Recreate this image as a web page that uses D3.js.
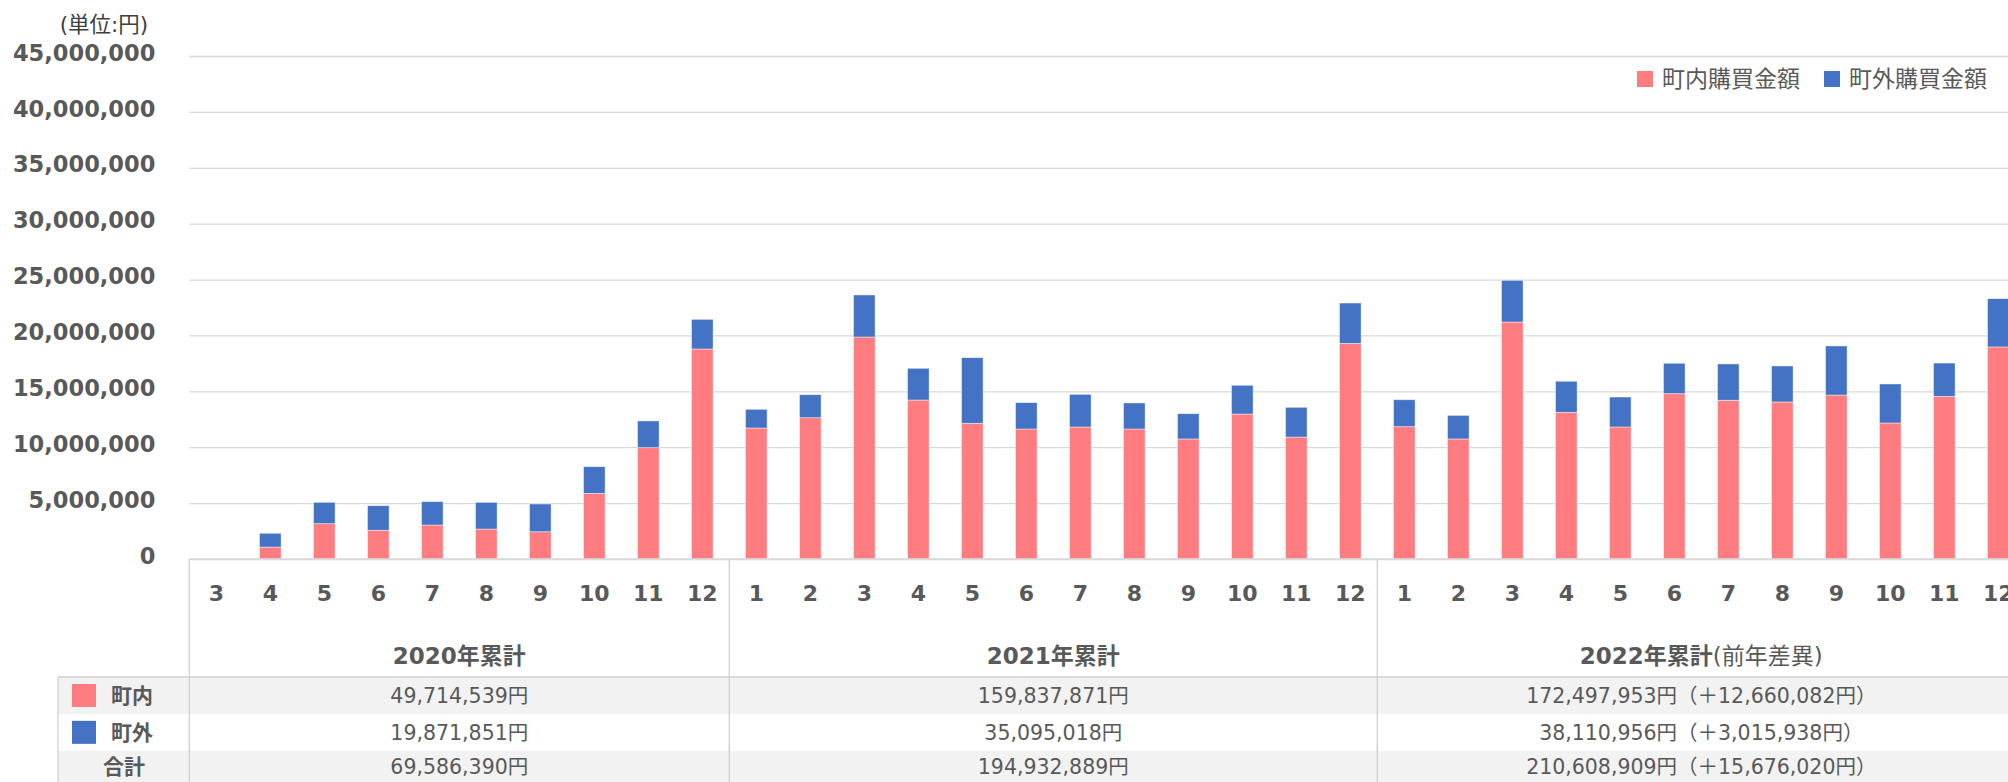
<!DOCTYPE html>
<html>
<head>
<meta charset="utf-8">
<script src="https://cdn.jsdelivr.net/npm/d3@7"></script>
<style>
html, body { margin: 0; padding: 0; background: #fff; overflow: hidden; }
svg { display: block; font-family: "DejaVu Sans", "Noto Sans CJK JP", sans-serif; }
</style>
</head>
<body>
<svg id="chart" width="2008" height="782"></svg>
<script>
// ---------------- data ----------------
const monthLabels = ["3","4","5","6","7","8","9","10","11","12",
  "1","2","3","4","5","6","7","8","9","10","11","12",
  "1","2","3","4","5","6","7","8","9","10","11","12"];
const seriesNames = ["町内購買金額", "町外購買金額"];
const seriesColors = ["#FF7C80", "#4472C4"];
const townInside = [0, 1070000, 3160000, 2570000, 3040000, 2680000, 2440000, 5870000, 9960000, 18790000,
  11720000, 12640000, 19860000, 14220000, 12140000, 11630000, 11810000, 11630000, 10740000, 12970000, 10910000, 19290000,
  11840000, 10740000, 21200000, 13120000, 11810000, 14790000, 14200000, 14050000, 14670000, 12170000, 14550000, 18970000];
const townOutside = [0, 1230000, 1910000, 2200000, 2090000, 2390000, 2480000, 2390000, 2390000, 2650000,
  1670000, 2060000, 3760000, 2840000, 5870000, 2360000, 2920000, 2330000, 2260000, 2570000, 2660000, 3610000,
  2410000, 2110000, 3730000, 2780000, 2680000, 2720000, 3250000, 3220000, 4390000, 3490000, 2980000, 4320000];
const yTicks = [0, 5000000, 10000000, 15000000, 20000000, 25000000, 30000000, 35000000, 40000000, 45000000];
const yearGroups = ["2020年累計", "2021年累計", "2022年累計"];
const yearGroupSizes = [10, 12, 12];
const yearGroupNote = ["", "", "(前年差異)"];
const rowLabels = ["町内", "町外", "合計"];
const insideTotals = [49714539, 159837871, 172497953];
const outsideTotals = [19871851, 35095018, 38110956];
const allTotals = [69586390, 194932889, 210608909];
const insideDiff = [null, null, 12660082];
const outsideDiff = [null, null, 3015938];
const allDiff = [null, null, 15676020];
const unitLabel = "(単位:円)";

// ---------------- layout ----------------
const W = 2008, H = 782;
const plotLeft = 189.3, step = 54;
const plotRight = plotLeft + step * monthLabels.length;
const yBottom = 559, yTop = 56;
const gridColor = "#d9d9d9";
const textColor = "#595959";

const svg = d3.select("#chart");

const keys = monthLabels.map((m, i) => i);
const x = d3.scaleBand().domain(keys).range([plotLeft, plotRight]).paddingInner(0.6).paddingOuter(0.3);
const y = d3.scaleLinear().domain([0, 45000000]).range([yBottom, yTop]);

// gridlines + y axis labels
const yAxis = d3.axisLeft(y).tickValues(yTicks).tickFormat(d3.format(",")).tickSize(-(W - plotLeft)).tickPadding(34);
const gy = svg.append("g").attr("transform", `translate(${plotLeft},0)`).call(yAxis);
gy.select(".domain").remove();
gy.selectAll(".tick line").attr("stroke", gridColor).attr("stroke-width", 1.3);
gy.selectAll(".tick text")
  .attr("fill", textColor).attr("font-size", 22.5).attr("font-weight", "bold")
  .attr("font-family", "DejaVu Sans").attr("dy", "0.32em").attr("y", -3);

// unit label
svg.append("text").attr("x", 104).attr("y", 32).attr("text-anchor", "middle")
  .attr("font-size", 21.5).attr("fill", "#404040").text(unitLabel);

// stacked bars
const rows = keys.map(i => ({ i, a: townInside[i], b: townOutside[i] }));
const stack = d3.stack().keys(["a", "b"]);
const stacked = stack(rows);
svg.append("g").selectAll("g").data(stacked).join("g")
  .attr("fill", (d, k) => seriesColors[k])
  .selectAll("rect").data(d => d.filter(p => p[1] - p[0] > 0)).join("rect")
  .attr("x", d => x(d.data.i))
  .attr("width", x.bandwidth())
  .attr("y", d => y(d[1]))
  .attr("height", d => y(d[0]) - y(d[1]))
  .attr("stroke", "#ffffff").attr("stroke-opacity", 0.55).attr("stroke-width", 0.8);

// table backgrounds
const tableTop = 677, rowH = [37, 36.7, 31.3];
const tableLeft = 58;
let ry = tableTop;
const rowY = [];
rowH.forEach((h, r) => {
  rowY.push(ry);
  svg.append("rect").attr("x", tableLeft).attr("y", ry).attr("width", W - tableLeft).attr("height", h)
    .attr("fill", r % 2 === 0 ? "#f2f2f2" : "#ffffff");
  ry += h;
});

// x axis line
svg.append("line").attr("x1", plotLeft).attr("x2", W).attr("y1", yBottom).attr("y2", yBottom)
  .attr("stroke", gridColor).attr("stroke-width", 1.5);

// month labels
const xAxis = d3.axisBottom(x).tickSize(0).tickPadding(0).tickFormat(i => monthLabels[i]);
const gx = svg.append("g").attr("transform", `translate(0,${yBottom})`).call(xAxis);
gx.select(".domain").remove();
gx.selectAll(".tick text").attr("fill", textColor).attr("font-size", 22).attr("font-weight", "bold")
  .attr("font-family", "DejaVu Sans").attr("dy", 0).attr("y", 42);

// group separators
let acc = 0;
const groupBounds = yearGroupSizes.map(n => { const s = acc; acc += n; return [s, acc]; });
const sepX = [plotLeft].concat(groupBounds.map(b => plotLeft + b[1] * step));
svg.selectAll(".sep").data(sepX).join("line").attr("class", "sep")
  .attr("x1", d => d).attr("x2", d => d).attr("y1", yBottom).attr("y2", H)
  .attr("stroke", "#d0d0d0").attr("stroke-width", 1.3);
// table left border and header bottom line
svg.append("line").attr("x1", tableLeft).attr("x2", tableLeft).attr("y1", tableTop).attr("y2", H)
  .attr("stroke", "#d0d0d0").attr("stroke-width", 1.3);
svg.append("line").attr("x1", tableLeft).attr("x2", W).attr("y1", tableTop).attr("y2", tableTop)
  .attr("stroke", "#d0d0d0").attr("stroke-width", 1.3);

// group headers
groupBounds.forEach((b, g) => {
  const cx = plotLeft + (b[0] + b[1]) / 2 * step;
  const t = svg.append("text").attr("x", cx).attr("y", 664).attr("text-anchor", "middle")
    .attr("fill", textColor).attr("font-size", 23);
  t.append("tspan").attr("font-weight", "bold").text(yearGroups[g]);
  if (yearGroupNote[g]) t.append("tspan").attr("font-weight", "normal").text(yearGroupNote[g]);

  const fmt = d3.format(",");
  const cell = (v, dv) => fmt(v) + "円" + (dv != null ? "（＋" + fmt(dv) + "円）" : "");
  const vals = [cell(insideTotals[g], insideDiff[g]), cell(outsideTotals[g], outsideDiff[g]), cell(allTotals[g], allDiff[g])];
  vals.forEach((s, r) => {
    svg.append("text").attr("x", cx).attr("y", rowY[r] + rowH[r] / 2 + 7.5).attr("text-anchor", "middle")
      .attr("fill", textColor).attr("font-size", 20.5).text(s);
  });
});

// row labels
const labelCx = [132, 132, 124];
rowLabels.forEach((l, r) => {
  svg.append("text").attr("x", r < 2 ? 111 : labelCx[r]).attr("y", rowY[r] + rowH[r] / 2 + 7.5)
    .attr("text-anchor", r < 2 ? "start" : "middle")
    .attr("fill", textColor).attr("font-size", 21).attr("font-weight", "bold").text(l);
  if (r < 2) {
    svg.append("rect").attr("x", 72).attr("y", rowY[r] + rowH[r] / 2 - 11.5).attr("width", 24).attr("height", 23)
      .attr("fill", seriesColors[r]);
  }
});

// legend
const legendX = [1637, 1824];
seriesNames.forEach((n, k) => {
  svg.append("rect").attr("x", legendX[k]).attr("y", 71).attr("width", 16).attr("height", 16).attr("fill", seriesColors[k]);
  svg.append("text").attr("x", legendX[k] + 25).attr("y", 87).attr("fill", textColor)
    .attr("font-size", 23).attr("font-family", "Noto Sans CJK JP").text(n);
});
</script>
</body>
</html>
